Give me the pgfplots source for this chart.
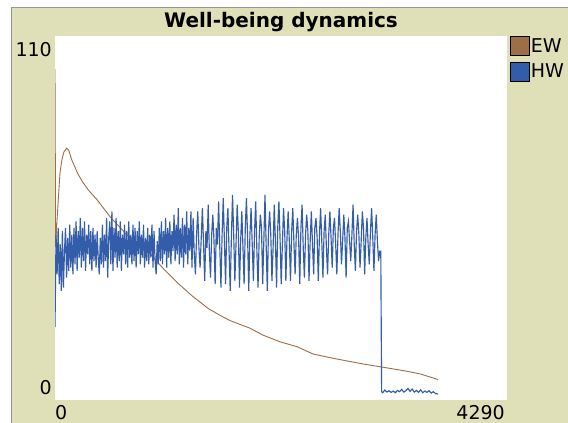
\documentclass[border=0pt]{standalone}
\usepackage{pgfplots}
\pgfplotsset{compat=1.18}
\usepackage{fontspec}
\setmainfont{DejaVu Sans}
\definecolor{bg}{RGB}{224,224,184}
\definecolor{ewc}{RGB}{157,110,72}
\definecolor{hwc}{RGB}{52,93,169}
\definecolor{framec}{RGB}{150,150,150}
\begin{document}
\begin{tikzpicture}[x=1pt,y=1pt]
\useasboundingbox (0,0) rectangle (568,423);
\fill[white] (0,0) rectangle (568,423);
\fill[bg] (12,0) rectangle (568,415);
\draw[framec, line width=1.3pt] (11.8,0) -- (11.8,415.3) -- (568,415.3);
\node[font=\fontsize{20}{24}\selectfont\bfseries, anchor=base] at (281,395) {Well-being dynamics};
\begin{axis}[at={(55pt,23pt)}, anchor=south west, width=452pt, height=364pt, scale only axis,
 xmin=0, xmax=4290, ymin=0, ymax=110,
 axis background/.style={fill=white},
 axis line style={draw=none},
 major tick length=0pt,
 tick style={draw=none},
 /pgf/number format/assume math mode=true,
 tick label style={font=\fontsize{19}{22}\selectfont, inner sep=0pt},
 xtick={0}, xticklabels={0},
 extra x ticks={4290}, extra x tick labels={4290},
 xticklabel style={anchor=north west, yshift=-5pt},
 extra x tick style={xticklabel style={anchor=north east, xshift=-2pt}},
 ytick={0}, yticklabels={0},
 extra y ticks={110}, extra y tick labels={110},
 yticklabel style={anchor=south east, xshift=-3pt, yshift=5pt},
 extra y tick style={yticklabel style={anchor=north east, yshift=-11pt}},
 legend style={at={(axis description cs:1,1)}, anchor=north west, xshift=3pt, yshift=0pt,
   draw=none, fill=none, inner sep=0pt, row sep=6pt,
   font=\fontsize{19}{22}\selectfont, nodes={inner sep=1pt}},
 legend cell align=left,
 legend image code/.code={\draw[#1,draw=black,line width=0.6pt] (0pt,-9.5pt) rectangle (19pt,9.5pt);},
 clip=true,
]
\addlegendimage{fill=ewc}
\addlegendentry{EW}
\addlegendimage{fill=hwc}
\addlegendentry{HW}
\addplot[ewc, line width=0.9pt, forget plot] table {
x y
0 100
6 46.3
15 52
30 60
47 68.5
65 72.5
85 75
111 76.1
130 75.5
160 72.5
215 68.5
260 66
315 63.5
400 60.5
522 55.4
683 49.9
885 44.8
1020 40
1167 35.3
1300 31.5
1452 27.7
1560 25.7
1661 24.0
1851 21.7
1974 19.6
2135 17.6
2297 16.1
2449 13.9
2610 12.8
2771 11.8
2923 10.9
3113 9.9
3303 8.9
3464 7.9
3635 6.2
};
\addplot[hwc, line width=1.15pt, forget plot] table {
x y
0 22
5 36
10 50
20 38
30 52
40 35
50 47
60 33
70 51
80 34
90 45
100 52
110 37
120 49
130 39
140 53
150 40
160 50
170 38
180 52
190 41
200 54
210 39
220 51
230 43
240 55
250 40
260 52
270 42
280 54
290 39
300 50
310 44
320 53
330 41
340 51
350 39
360 52
370 42
380 50
390 40
400 51
410 43
420 38
430 49
440 41
450 53
460 40
470 50
480 42
490 55
500 37
510 49
520 54
530 41
540 57
550 39
560 52
570 43
580 55
590 40
600 51
610 42
620 54
630 39
640 50
650 44
660 53
670 41
680 51
690 40
700 54
710 43
720 50
730 41
740 53
750 42
760 52
770 40
780 51
790 44
800 54
810 41
820 50
830 43
840 53
850 40
860 49
870 42
880 52
890 41
900 50
910 43
920 53
930 40
940 51
950 42
960 38
970 48
980 41
990 52
1000 42
1010 54
1020 41
1030 51
1040 44
1050 55
1060 40
1070 52
1080 43
1090 54
1100 41
1110 51
1120 45
1130 56
1140 42
1150 53
1160 44
1170 58
1180 41
1190 52
1200 43
1210 55
1220 40
1230 53
1240 44
1250 57
1260 41
1270 52
1280 45
1290 57
1300 40
1311 55
1322 44
1333 38
1344 50
1355 57
1366 46
1377 40
1388 49
1399 58
1410 47
1421 36
1432 51
1443 46
1454 59
1465 45
1476 37
1487 50
1498 56
1509 48
1520 35
1531 52
1542 47
1553 60
1564 46
1575 34
1586 50
1597 61
1608 48
1619 35
1630 52
1641 58
1652 45
1663 33
1674 49
1685 62
1696 50
1707 36
1718 47
1729 59
1740 51
1751 34
1762 48
1773 57
1784 46
1795 35
1806 52
1817 61
1828 49
1839 33
1850 50
1861 58
1872 47
1883 36
1894 51
1905 60
1916 45
1927 34
1938 49
1949 56
1960 52
1971 35
1982 48
1993 62
2004 47
2015 33
2026 51
2037 57
2048 50
2059 36
2070 46
2081 59
2092 48
2103 34
2114 52
2125 60
2136 49
2147 35
2158 47
2169 58
2180 51
2191 36
2202 49
2213 57
2224 48
2235 36
2246 51
2257 58
2268 47
2279 38
2290 50
2301 55
2312 49
2323 35
2334 52
2345 59
2356 46
2367 37
2378 50
2389 56
2400 51
2411 36
2422 48
2433 57
2444 47
2455 38
2466 52
2477 55
2488 49
2499 36
2510 50
2521 58
2532 48
2543 37
2554 51
2565 56
2576 46
2587 38
2598 50
2609 57
2620 49
2631 40
2642 52
2653 55
2664 47
2675 38
2686 50
2697 58
2708 51
2719 41
2730 48
2741 56
2752 49
2763 37
2774 52
2785 54
2796 48
2807 42
2818 50
2829 59
2840 47
2851 39
2862 51
2873 56
2884 50
2895 40
2906 48
2917 57
2928 52
2939 38
2950 49
2961 55
2972 47
2983 41
2994 51
3005 58
3016 49
3027 39
3038 50
3049 56
3060 48
3071 42
3082 45
3092 45
3100 2.5
3110 2.2
3130 3.0
3150 2.4
3170 2.8
3190 2.3
3210 2.7
3230 2.2
3250 2.9
3270 2.5
3290 3.2
3310 2.4
3330 2.8
3350 3.5
3370 2.6
3390 3.3
3410 2.4
3430 2.9
3450 2.3
3470 3.1
3490 2.2
3510 2.7
3530 2.3
3550 2.8
3570 2.1
3590 2.5
3610 2.0
3635 1.8
};
\end{axis}
\end{tikzpicture}
\end{document}
